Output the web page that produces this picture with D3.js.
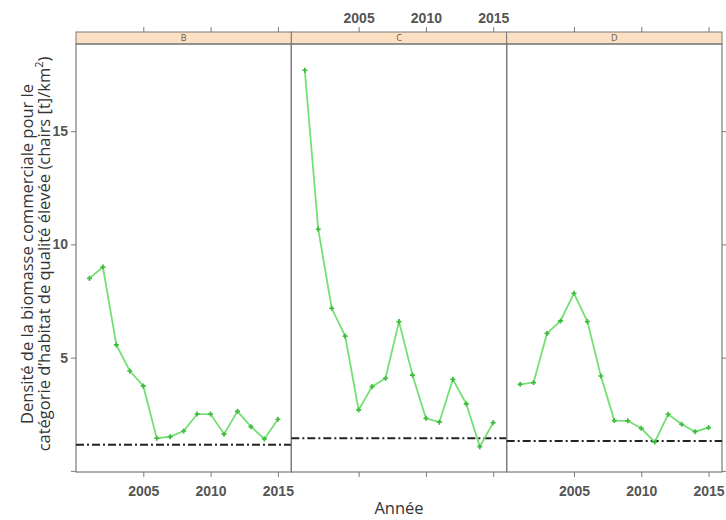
<!DOCTYPE html>
<html>
<head>
<meta charset="utf-8">
<script src="https://cdn.jsdelivr.net/npm/d3@7"></script>
<style>
  body { margin:0; background:#fff; }
  svg text { font-family: "Open Sans", "DejaVu Sans", sans-serif; }
</style>
</head>
<body>
<div id="chart"></div>
<script>
// data
var years   = [2001,2002,2003,2004,2005,2006,2007,2008,2009,2010,2011,2012,2013,2014,2015];
var panels  = ['B','C','D'];
var valuesB = [8.5,9.0,5.56,4.41,3.75,1.44,1.51,1.76,2.51,2.51,1.62,2.63,1.95,1.41,2.28];
var valuesC = [17.69,10.67,7.18,5.95,2.69,3.72,4.09,6.59,4.23,2.32,2.15,4.04,2.96,1.07,2.13];
var valuesD = [3.82,3.9,6.07,6.62,7.84,6.59,4.19,2.22,2.21,1.88,1.27,2.5,2.06,1.73,1.91];
var refLine = [1.15,1.44,1.32];
var xTicks  = [2005,2010,2015];
var yTicks  = [0,5,10,15];

(function(){
    var series = {B:valuesB, C:valuesC, D:valuesD};

    var W = 726, H = 520;
    var pLeft = 76, pRight = 722, pTop = 44, stripTop = 32, pBottom = 472;
    var pw = (pRight-pLeft)/panels.length;

    var svg = d3.select('#chart').append('svg').attr('width',W).attr('height',H);

    var y  = d3.scaleLinear().domain([-0.05,18.85]).range([pBottom,pTop]);
    var px = d3.scaleBand().domain(panels).range([pLeft,pRight]).padding(0);

    var grey = '#7a7a7a', labCol = '#555';
    var tickFont = '"Liberation Sans", Arial, sans-serif';

    panels.forEach(function(p,i){
        var x0 = px(p);
        var x = d3.scaleLinear().domain([2000,2016]).range([x0,x0+pw]);
        var g = svg.append('g');

        // strip
        g.append('rect').attr('x',x0).attr('y',stripTop).attr('width',pw).attr('height',pTop-stripTop)
            .attr('fill','#fbe0c4').attr('stroke',grey).attr('stroke-width',1);
        g.append('text').attr('x',x0+pw/2).attr('y',pTop-3).attr('text-anchor','middle')
            .attr('font-size','9px').attr('fill','#6b5a4a').text(p);

        // panel frame
        g.append('rect').attr('x',x0).attr('y',pTop).attr('width',pw).attr('height',pBottom-pTop)
            .attr('fill','none').attr('stroke',grey).attr('stroke-width',1.2);

        // bottom axis
        var bAx = d3.axisBottom(x).tickValues(xTicks).tickSize(5).tickFormat(i===1?'':d3.format('d'));
        var ba = g.append('g').attr('transform','translate(0,'+pBottom+')').call(bAx);
        ba.select('.domain').remove();
        ba.selectAll('line').attr('stroke',grey);
        ba.selectAll('text').attr('dy','1.15em').attr('font-size','14px').attr('font-weight','bold')
            .attr('fill',labCol).style('font-family',tickFont);

        // top axis
        var tAx = d3.axisTop(x).tickValues(xTicks).tickSize(5).tickFormat(i===1?d3.format('d'):'');
        var ta = g.append('g').attr('transform','translate(0,'+stripTop+')').call(tAx);
        ta.select('.domain').remove();
        ta.selectAll('line').attr('stroke',grey);
        ta.selectAll('text').attr('dy','-0.05em').attr('font-size','14px').attr('font-weight','bold')
            .attr('fill',labCol).style('font-family',tickFont);

        // reference line
        g.append('line').attr('x1',x0).attr('x2',x0+pw).attr('y1',y(refLine[i])).attr('y2',y(refLine[i]))
            .attr('stroke','#222').attr('stroke-width',2).attr('stroke-dasharray','8,3,2,3');

        // series
        var pts = years.map(function(yr,k){ return [yr, series[p][k]]; });
        var line = d3.line().x(function(d){ return x(d[0]); }).y(function(d){ return y(d[1]); });
        g.append('path').datum(pts).attr('d',line).attr('fill','none')
            .attr('stroke','#74e074').attr('stroke-width',1.8);
        g.selectAll('path.pt').data(pts).join('path').attr('class','pt')
            .attr('transform',function(d){ return 'translate('+x(d[0])+','+y(d[1])+')'; })
            .attr('d',d3.symbol().type(d3.symbolCross).size(14))
            .attr('fill','#3dbb3d');
    });

    // left axis
    var lAx = d3.axisLeft(y).tickValues(yTicks).tickSize(5).tickFormat(function(d){ return d===0?'':d; });
    var la = svg.append('g').attr('transform','translate('+pLeft+',0)').call(lAx);
    la.select('.domain').remove();
    la.selectAll('line').attr('stroke',grey);
    la.selectAll('text').attr('font-size','14px').attr('font-weight','bold').attr('fill',labCol)
        .style('font-family',tickFont);

    // right axis (ticks only)
    var rAx = d3.axisRight(y).tickValues(yTicks).tickSize(5).tickFormat('');
    var ra = svg.append('g').attr('transform','translate('+pRight+',0)').call(rAx);
    ra.select('.domain').remove();
    ra.selectAll('line').attr('stroke',grey);

    // axis titles
    svg.append('text').attr('x',(pLeft+pRight)/2).attr('y',514).attr('text-anchor','middle')
        .attr('font-size','16.5px').attr('fill','#333').text('Année');

    var yt = svg.append('text').attr('transform','translate(33,254) rotate(-90)')
        .attr('text-anchor','middle').attr('font-size','16.5px').attr('fill','#333');
    yt.append('tspan').attr('x',0).attr('dy',0).text('Densité de la biomasse commerciale pour le');
    yt.append('tspan').attr('x',0).attr('dy',17).text('catégorie d\u2019habitat de qualité élevée (chairs [t]/km');
    yt.append('tspan').attr('dy',-7).attr('font-size','11px').text('2');
    yt.append('tspan').attr('dy',7).text(')');
})();
</script>
</body>
</html>
